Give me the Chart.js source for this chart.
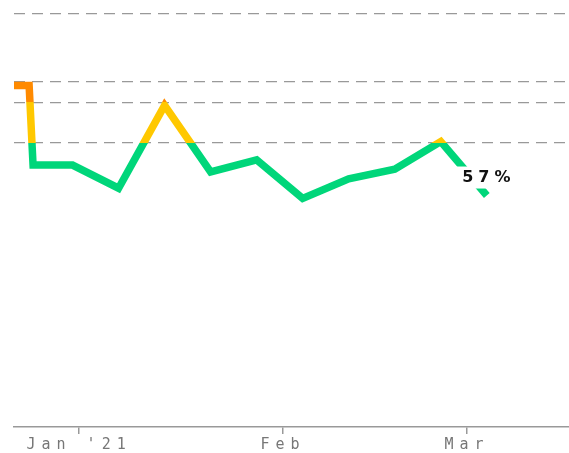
<!DOCTYPE html>
<html>
<head>
<meta charset="utf-8">
<script src="https://cdn.jsdelivr.net/npm/chart.js@4/dist/chart.umd.min.js"></script>
<style>
  body { margin: 0; background: #fff; }
  #wrap { width: 569px; height: 453px; }
</style>
</head>
<body>
<div id="wrap"><canvas id="rateChart"></canvas></div>
<script>
// days counted from Jan 1 2021 (Dec 31 = -1)
const days = [-10, -7.6, -7, -1, 6, 13, 20, 27, 34, 41, 48, 55, 62];
const rates = [84.1, 84.1, 64.5, 64.5, 58.8, 79.2, 62.8, 65.8, 56.3, 61.1, 63.5, 70.3, 57];

const tickDays = [0, 31, 59];
const tickLabels = ["Jan '21", "Feb", "Mar"];
const levelLines = [70, 80, 85, 101.7];

const GREEN = "#00d67a";
const YELLOW = "#ffc800";
const ORANGE = "#ff8a00";

// colour the line by level: green < 70, yellow 70-80, orange > 80
function levelColor(ctx) {
    const chart = ctx.chart;
    const area = chart.chartArea;
    if (!area) return GREEN;
    const y = chart.scales.y;
    const g = chart.ctx.createLinearGradient(0, area.top, 0, area.bottom);
    const h = area.bottom - area.top;
    const p80 = (y.getPixelForValue(80) - area.top) / h;
    const p70 = (y.getPixelForValue(70) - area.top) / h;
    g.addColorStop(0, ORANGE);
    g.addColorStop(p80, ORANGE);
    g.addColorStop(p80, YELLOW);
    g.addColorStop(p70, YELLOW);
    g.addColorStop(p70, GREEN);
    g.addColorStop(1, GREEN);
    return g;
}

const spacing = {
    id: "spacing",
    beforeDraw(chart) {
        chart.ctx.letterSpacing = "6px";
    }
};

// label for the latest value, with a white box behind it
const lastLabel = {
    id: "lastLabel",
    afterDatasetsDraw(chart) {
        const meta = chart.getDatasetMeta(0);
        const pt = meta.data[meta.data.length - 1];
        const ctx = chart.ctx;
        const text = rates[rates.length - 1] + "%";
        ctx.save();
        ctx.letterSpacing = "5px";
        ctx.font = "bold 16px 'DejaVu Sans'";
        const w = ctx.measureText(text).width;
        const cx = pt.x, cy = pt.y - 18;
        ctx.fillStyle = "#fff";
        ctx.fillRect(cx - w / 2 - 6, cy - 11, w + 12, 22);
        ctx.fillStyle = "#111";
        ctx.textAlign = "center";
        ctx.textBaseline = "middle";
        ctx.fillText(text, cx + 2, cy);
        ctx.restore();
    }
};

new Chart(document.getElementById("rateChart"), {
    type: "line",
    data: {
        datasets: [{
            data: days.map((d, i) => ({ x: d, y: rates[i] })),
            borderColor: levelColor,
            borderWidth: 7.5,
            pointRadius: 0,
            tension: 0,
            fill: false
        }]
    },
    options: {
        responsive: true,
        maintainAspectRatio: false,
        animation: false,
        devicePixelRatio: 1,
        layout: { padding: { left: 14, top: 14, right: 0, bottom: 0 } },
        plugins: { legend: { display: false }, tooltip: { enabled: false } },
        scales: {
            x: {
                type: "linear",
                min: -9.9,
                max: 74.5,
                afterBuildTicks: s => { s.ticks = tickDays.map(v => ({ value: v })); },
                afterFit: s => { s.height = 26; },
                border: { display: true, color: "#999", width: 1.5 },
                grid: { drawOnChartArea: false, drawTicks: true, tickLength: 7, color: "#999", lineWidth: 1.5 },
                ticks: {
                    autoSkip: false,
                    maxRotation: 0,
                    padding: 2,
                    color: "#777",
                    font: { family: "'DejaVu Sans Mono'", size: 15 },
                    callback: (v) => tickLabels[tickDays.indexOf(v)]
                }
            },
            y: {
                min: 0,
                max: 101.7,
                afterBuildTicks: s => { s.ticks = levelLines.map(v => ({ value: v })); },
                afterFit: s => { s.width = 0; },
                border: { display: false, dash: [11, 7] },
                grid: { color: "#999", lineWidth: 1.2, drawTicks: false },
                ticks: { display: false }
            }
        }
    },
    plugins: [spacing, lastLabel]
});
</script>
</body>
</html>
